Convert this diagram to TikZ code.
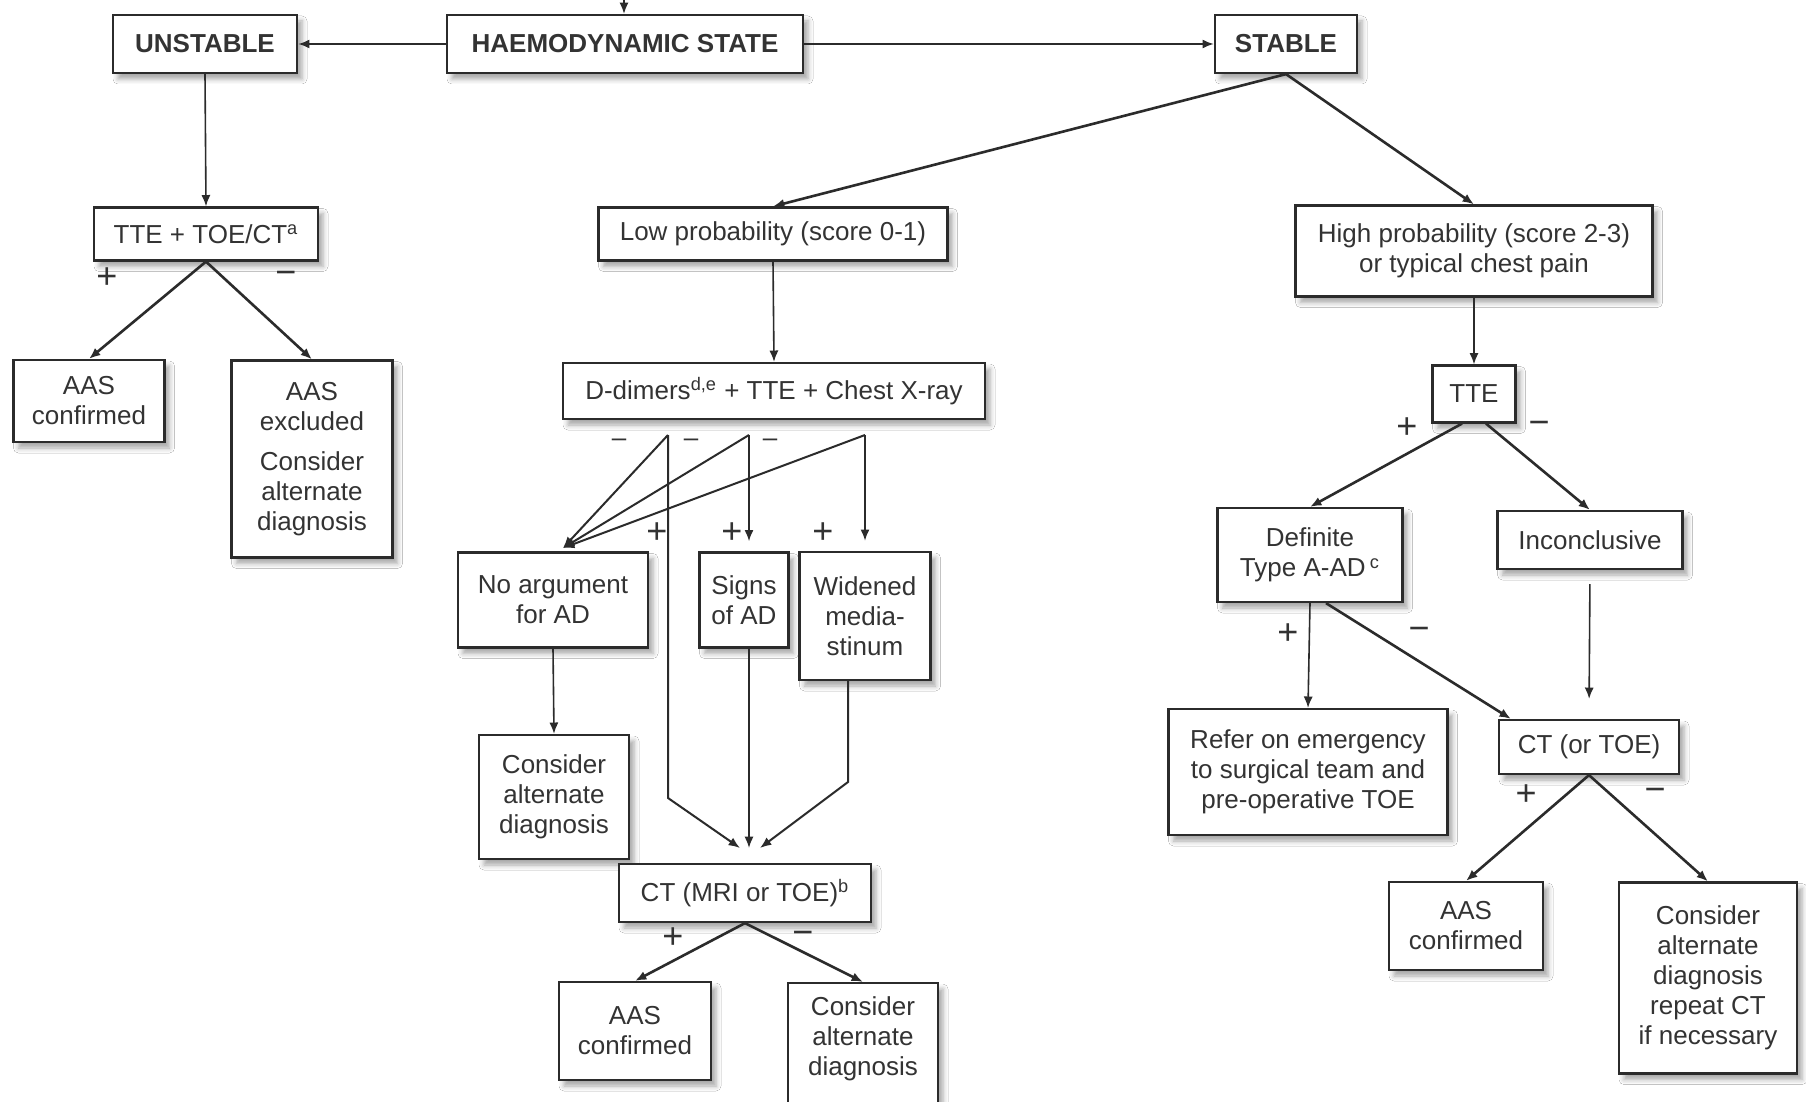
\documentclass[tikz,border=0pt]{standalone}
\usepackage{fontspec}
\setmainfont{Liberation Sans}
\usepackage{xcolor}
\usepackage{tikz}
\usetikzlibrary{positioning,arrows.meta,calc,shadows.blur}
\definecolor{AADink}{HTML}{2B2B2B}
\definecolor{AADtext}{HTML}{333333}
\tikzset{
  dxbox/.style={draw=AADink, line width=1.1pt, fill=white, align=center, text=AADtext, font=\fontsize{13}{15}\selectfont, inner sep=2pt, blur shadow={shadow xshift=2.5pt, shadow yshift=-3pt, shadow blur radius=2.5pt, shadow opacity=35}},
  headbox/.style={dxbox, font=\fontsize{13}{15}\selectfont\bfseries},
  dxarr/.style={-{Latex[length=2mm,width=1.6mm]}, line width=1.3pt, draw=AADink},
  dxmid/.style={-{Latex[length=2mm,width=1.6mm]}, line width=1pt, draw=AADink},
  dxthin/.style={-{Latex[length=2mm,width=1.6mm]}, line width=0.8pt, draw=AADink},
  sgn/.style={font=\fontsize{18}{18}\selectfont, text=AADtext, inner sep=0pt},
  smsgn/.style={font=\fontsize{13}{13}\selectfont, text=AADtext, inner sep=0pt}
}
\begin{document}
\begin{tikzpicture}[x=0.5pt,y=-0.5pt]
  \useasboundingbox (0,0) rectangle (1806,1102);
  \fill[white] (0,0) rectangle (1806,1102);
  % top row
  \node[headbox, minimum width=178pt, minimum height=29pt] (hs) at (625,44) {HAEMODYNAMIC STATE};
  \node[headbox, minimum width=92pt, minimum height=29pt] (unst) at (205,44) {UNSTABLE};
  \node[headbox, minimum width=71pt, minimum height=29pt] (stab) at (1286,44) {STABLE};
  \coordinate (entry) at (624,0);
  \draw[dxthin] (entry) -- (entry |- hs.north);
  \draw[dxmid] (hs.west) -- (unst.east);
  \draw[dxmid] (hs.east) -- (stab.west);
  % unstable branch
  \node[dxbox, minimum width=112pt, minimum height=26.5pt] (tteu) at (206,234) {TTE + TOE/CT\textsuperscript{a}};
  \node[dxbox, minimum width=75.5pt, minimum height=41pt] (aasu) at (89,401) {AAS\\confirmed};
  \node[dxbox, minimum width=80.5pt, minimum height=98.5pt] (exclu) at (312,459) {AAS\\excluded\\[5pt]Consider\\alternate\\diagnosis};
  \draw[dxthin] (unst.south) -- (tteu.north);
  \draw[dxarr] (tteu.south) -- (aasu.north);
  \draw[dxarr] (tteu.south) -- (exclu.north);
  \node[sgn] at (107,278) {+};
  \node[sgn] at (286,278) {−};
  % stable, low probability
  \node[dxbox, minimum width=174.5pt, minimum height=26.5pt] (lowp) at (773,234) {Low probability (score 0-1)};
  \node[dxbox, minimum width=178.5pt, minimum height=45.5pt] (highp) at (1474,251) {High probability (score 2-3)\\or typical chest pain};
  \draw[dxarr] (stab.south) -- (lowp.north);
  \draw[dxarr] (stab.south) -- (highp.north);
  \node[dxbox, minimum width=211pt, minimum height=28pt] (ddim) at (774,391) {D-dimers\textsuperscript{d,e} + TTE + Chest X-ray};
  \draw[dxthin] (lowp.south) -- (ddim.north);
  \node[dxbox, minimum width=95pt, minimum height=47.5pt] (noarg) at (553,600) {No argument\\for AD};
  \node[dxbox, minimum width=44.5pt, minimum height=47.5pt] (signs) at (744,600) {Signs\\of AD};
  \node[dxbox, minimum width=65.5pt, minimum height=64pt] (widen) at (865,616) {Widened\\media-\\stinum};
  \node[dxbox, minimum width=75pt, minimum height=62pt] (altm) at (554,797) {Consider\\alternate\\diagnosis};
  \node[dxbox, minimum width=126pt, minimum height=29pt] (ctb) at (745,893) {CT (MRI or TOE)\textsuperscript{b}};
  \node[dxbox, minimum width=76pt, minimum height=49pt] (aasb) at (635,1031) {AAS\\confirmed};
  \node[dxbox, minimum width=75pt, anchor=north] (altb) at (863,982) {\rule{0pt}{14pt}Consider\\alternate\\diagnosis\rule[-18.5pt]{0pt}{18.5pt}};
  \coordinate (f1) at (668,435);
  \coordinate (f2) at (749,435);
  \coordinate (f3) at (865,435);
  \coordinate (nt) at (563,548);
  \coordinate (k1) at (668,798);
  \coordinate (k3) at (848,782);
  \coordinate (m1) at (740,848);
  \coordinate (m2) at (749,848);
  \coordinate (m3) at (760,848);
  \draw[dxmid] (f1) -- (nt);
  \draw[dxmid] (f2) -- (nt);
  \draw[dxmid] (f3) -- (nt);
  \draw[dxmid, shorten >=5pt] (f2) -- (f2 |- signs.north);
  \draw[dxmid, shorten >=5pt] (f3) -- (f3 |- widen.north);
  \draw[dxmid] (f1) -- (k1) -- (m1);
  \draw[dxthin] (f2 |- signs.south) -- (m2);
  \draw[dxmid] (k3 |- widen.south) -- (k3) -- (m3);
  \draw[dxthin] (noarg.south) -- (altm.north);
  \draw[dxarr] (ctb.south) -- (aasb.north);
  \draw[dxarr] (ctb.south) -- (altb.north);
  \node[smsgn] at (619,443) {–};
  \node[smsgn] at (691,443) {–};
  \node[smsgn] at (770,443) {–};
  \node[sgn] at (657,533) {+};
  \node[sgn] at (732,533) {+};
  \node[sgn] at (823,533) {+};
  \node[sgn] at (673,938) {+};
  \node[sgn] at (803,938) {−};
  % stable, high probability
  \node[dxbox, minimum width=41.5pt, minimum height=28.5pt] (tter) at (1474,394) {TTE};
  \node[dxbox, minimum width=92.5pt, minimum height=47pt] (defn) at (1310,555) {Definite\\Type A-AD\,\textsuperscript{c}};
  \node[dxbox, minimum width=92.5pt, minimum height=29pt] (incl) at (1590,540) {Inconclusive};
  \node[dxbox, minimum width=139.5pt, minimum height=63pt] (refer) at (1308,772) {Refer on emergency\\to surgical team and\\pre-operative TOE};
  \node[dxbox, minimum width=90pt, minimum height=27pt] (cto) at (1589,747) {CT (or TOE)};
  \node[dxbox, minimum width=77pt, minimum height=44pt] (aasr) at (1466,926) {AAS\\confirmed};
  \node[dxbox, minimum width=89pt, minimum height=95.5pt] (altr) at (1708,978) {Consider\\alternate\\diagnosis\\repeat CT\\if necessary};
  \draw[dxthin] (highp.south) -- (tter.north);
  \draw[dxarr] ([xshift=-6pt]tter.south) -- (defn.north);
  \draw[dxarr] ([xshift=6pt]tter.south) -- (incl.north);
  \draw[dxthin] (defn.south) -- (refer.north);
  \draw[dxarr] ([xshift=8pt]defn.south) -- ($(cto.north west)+(13,0)$);
  \draw[dxthin, shorten <=7pt, shorten >=10pt] (incl.south) -- (cto.north);
  \draw[dxarr] (cto.south) -- (aasr.north);
  \draw[dxarr] (cto.south) -- (altr.north);
  \node[sgn] at (1407,428) {+};
  \node[sgn] at (1539,428) {−};
  \node[sgn] at (1288,634) {+};
  \node[sgn] at (1419,634) {−};
  \node[sgn] at (1526,795) {+};
  \node[sgn] at (1655,795) {−};
\end{tikzpicture}
\end{document}
